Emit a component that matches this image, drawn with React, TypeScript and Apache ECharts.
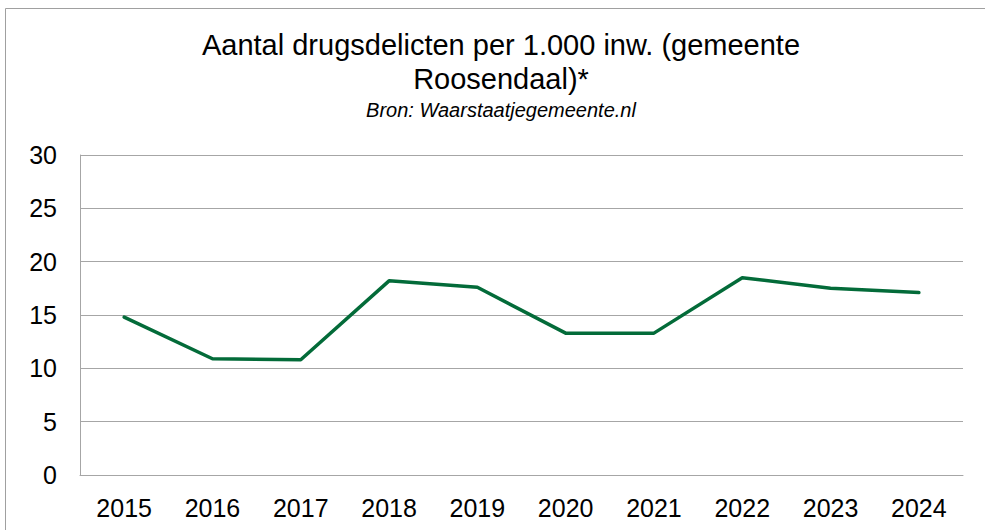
import React, { useEffect, useRef } from "react";
import * as echarts from "echarts";

const categories = ["2015", "2016", "2017", "2018", "2019", "2020", "2021", "2022", "2023", "2024"];
const values = [14.8, 10.9, 10.8, 18.2, 17.6, 13.3, 13.3, 18.5, 17.5, 17.1];
const titleText = "Aantal drugsdelicten per 1.000 inw. (gemeente\nRoosendaal)*";
const subtitleText = "Bron: Waarstaatjegemeente.nl";

export default function App() {
  const ref = useRef<HTMLDivElement>(null);
  useEffect(() => {
    if (!ref.current) return;
    const chart = echarts.init(ref.current, null, { renderer: "svg" });
    const font = "'Liberation Sans', Arial, sans-serif";
    chart.setOption({
      animation: false,
      backgroundColor: "#ffffff",
      title: {
        text: titleText,
        subtext: subtitleText,
        left: 501,
        top: 28,
        textAlign: "center",
        itemGap: 2,
        padding: 0,
        textStyle: {
          fontFamily: font,
          fontSize: 29,
          fontWeight: "normal",
          color: "#000000",
          lineHeight: 34,
        },
        subtextStyle: {
          fontFamily: font,
          fontSize: 20,
          fontStyle: "italic",
          color: "#000000",
          lineHeight: 24,
        },
      },
      graphic: [
        {
          type: "rect",
          shape: { x: 5.5, y: 8.5, width: 1000, height: 600 },
          style: { fill: "none", stroke: "#a0a0a0", lineWidth: 1 },
          silent: true,
        },
      ],
      grid: { left: 80, right: 22, top: 155, bottom: 55, containLabel: false },
      xAxis: {
        type: "category",
        data: categories,
        boundaryGap: true,
        axisLine: { show: true, lineStyle: { color: "#a6a6a6", width: 1 } },
        axisTick: { show: false },
        axisLabel: { fontFamily: font, fontSize: 25, color: "#000000", margin: 20 },
      },
      yAxis: {
        type: "value",
        min: 0,
        max: 30,
        interval: 5,
        axisLine: { show: true, lineStyle: { color: "#a6a6a6", width: 1 } },
        axisTick: { show: false },
        axisLabel: { fontFamily: font, fontSize: 25, color: "#000000", margin: 23 },
        splitLine: { show: true, lineStyle: { color: "#a6a6a6", width: 1 } },
      },
      series: [
        {
          type: "line",
          data: values,
          symbol: "none",
          lineStyle: { color: "#036b39", width: 3.5, cap: "round", join: "round" },
        },
      ],
    });
    return () => chart.dispose();
  }, []);
  return (
    <div
      ref={ref}
      style={{ position: "absolute", left: 0, top: 0, width: 985, height: 530 }}
    />
  );
}
